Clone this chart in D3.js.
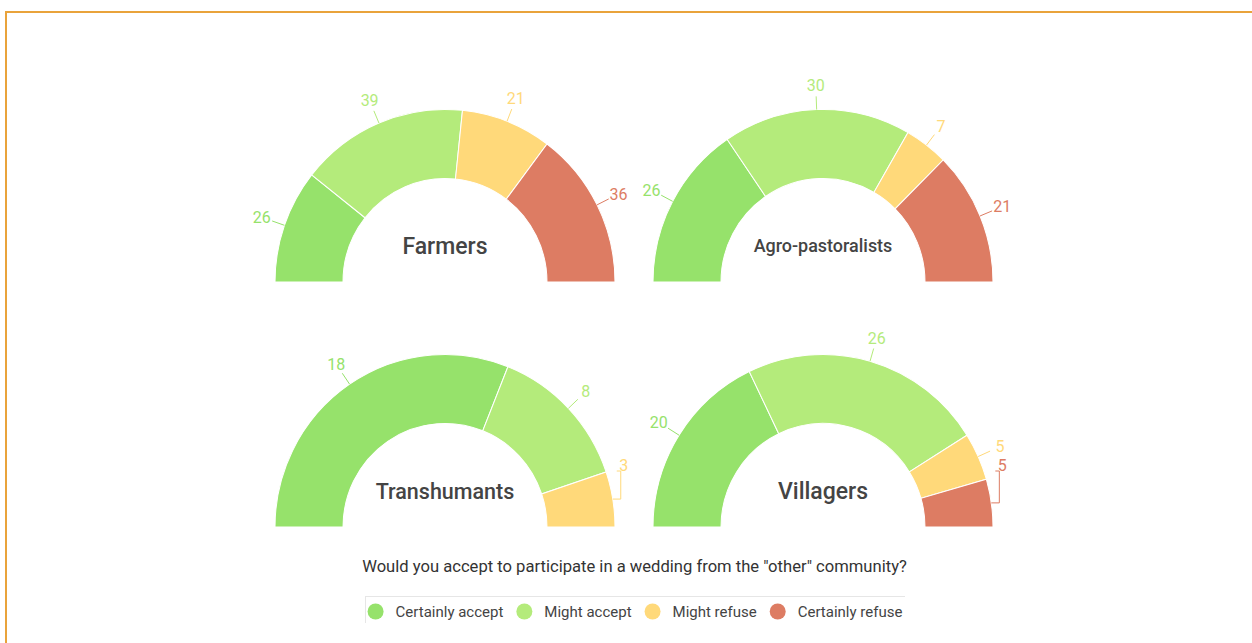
<!DOCTYPE html>
<html><head><meta charset="utf-8">
<script src="https://cdn.jsdelivr.net/npm/d3@7"></script>
<style>
body{margin:0;background:#fff;}
svg{display:block;font-family:Roboto,"Noto Sans",sans-serif;}
</style>
</head><body>
<svg id="c" width="1252" height="643"></svg>
<script>
// ---------- data ----------
const categories = ["Certainly accept", "Might accept", "Might refuse", "Certainly refuse"];
const groups = ["Farmers", "Agro-pastoralists", "Transhumants", "Villagers"];
const farmers = [26, 39, 21, 36];
const agroPastoralists = [26, 30, 7, 21];
const transhumants = [18, 8, 3, 0];
const villagers = [20, 26, 5, 5];
const chartTitle = 'Would you accept to participate in a wedding from the "other" community?';

// ---------- styles ----------
const colors = ["#96E26B", "#B4EB7B", "#FFD97A", "#DD7C63"];
const series = [farmers, agroPastoralists, transhumants, villagers];

const svg = d3.select("#c");
const W = 1252, H = 643;

// frame
svg.append("rect").attr("x", 5).attr("y", 11).attr("width", W).attr("height", 2).attr("fill", "#E9A33B");
svg.append("rect").attr("x", 5).attr("y", 11).attr("width", 2).attr("height", H).attr("fill", "#E9A33B");

const colX = d3.scalePoint().domain([0, 1]).range([445, 823]);
const rowY = d3.scalePoint().domain([0, 1]).range([282, 527]);
const color = d3.scaleOrdinal().domain(categories).range(colors);

const R = 170, r0 = 102, ky = 1.015;
const pie = d3.pie().sort(null).value(d => d.v).startAngle(-Math.PI / 2).endAngle(Math.PI / 2);
const arc = d3.arc().innerRadius(r0).outerRadius(R);
const pt = (a, rad) => [rad * Math.sin(a), -rad * Math.cos(a) * ky];

groups.forEach((name, gi) => {
  const cx = colX(gi % 2), cy = rowY(Math.floor(gi / 2));
  const g = svg.append("g").attr("transform", `translate(${cx},${cy})`);
  const data = series[gi].map((v, i) => ({ v, c: categories[i] }));
  const arcs = pie(data).filter(d => d.data.v > 0);

  g.append("g").attr("transform", `scale(1,${ky})`)
    .selectAll("path").data(arcs).join("path")
    .attr("d", arc)
    .attr("fill", d => color(d.data.c))
    .attr("stroke", "#fff").attr("stroke-width", 1);

  // value labels
  arcs.forEach(d => {
    const a = (d.startAngle + d.endAngle) / 2;
    const side = Math.sin(a) >= 0 ? 1 : -1;
    const P = pt(a, R);
    let L = pt(a, R + 24);
    let pts;
    if (L[1] > -62) {
      const ly = -62;
      const vx = P[0] + side * 8;
      pts = [P, [vx, P[1]], [vx, ly + 6], [P[0] + side * 4, ly + 6]];
      L = [P[0] + side * 11, ly];
    } else {
      pts = [P, pt(a, R + 13)];
    }
    const col = color(d.data.c);
    g.append("path").attr("d", d3.line()(pts))
      .attr("fill", "none").attr("stroke", col).attr("stroke-width", 1);
    g.append("text").attr("x", L[0]).attr("y", L[1]).attr("dy", "0.36em")
      .attr("text-anchor", "middle").attr("font-size", 16).attr("fill", col)
      .text(d.data.v);
  });

  // centre label
  const maxW = 0.68 * 2 * r0;
  let fs = 23;
  const t = g.append("text").attr("text-anchor", "middle").attr("font-weight", 500)
    .attr("fill", "#444").attr("font-size", fs).text(name);
  const w = t.node().getComputedTextLength();
  if (w > maxW) fs = fs * maxW / w;
  t.attr("font-size", fs).attr("y", -36 + 0.355 * fs);
});

// title
svg.append("text").attr("x", 634.5).attr("y", 572).attr("text-anchor", "middle")
  .attr("font-size", 16.6).attr("fill", "#333").text(chartTitle);

// legend
const legend = svg.append("g");
const items = legend.selectAll("g").data(categories).join("g");
items.append("circle").attr("r", 8).attr("fill", d => color(d));
items.append("text").attr("x", 20).attr("dy", "0.36em").attr("font-size", 15)
  .attr("fill", "#444").text(d => d);
let x = 0;
const offs = [];
items.each(function (d, i) {
  const tw = d3.select(this).select("text").node().getComputedTextLength();
  offs.push(x);
  x += 20 + tw + 21 + (i === categories.length - 1 ? -21 : 0);
});
const totalW = x + 8; // include left half of first circle
const startX = 635 - totalW / 2 + 8;
items.attr("transform", (d, i) => `translate(${startX + offs[i]},611.5)`);
// legend box (faint)
legend.append("line").attr("x1", 365).attr("x2", 905).attr("y1", 596.5).attr("y2", 596.5)
  .attr("stroke", "#e6e6e6");
legend.append("line").attr("x1", 365.5).attr("x2", 365.5).attr("y1", 596).attr("y2", 623)
  .attr("stroke", "#e6e6e6");
</script>
</body></html>
